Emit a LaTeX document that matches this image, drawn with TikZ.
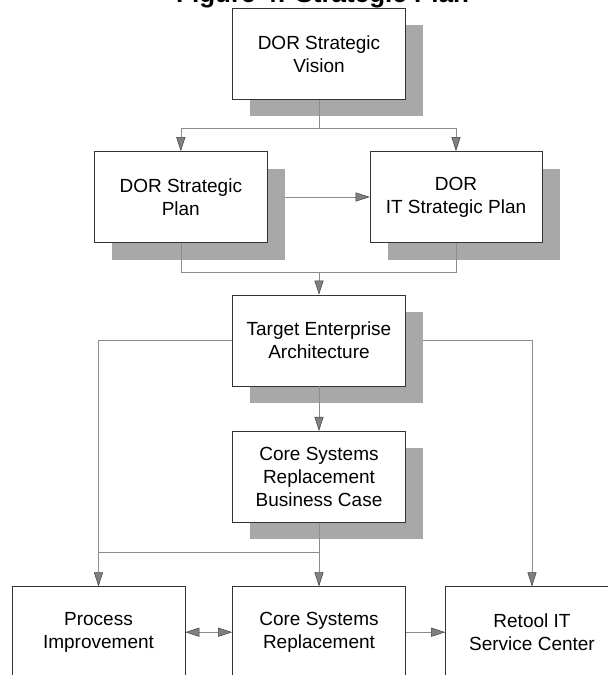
\documentclass[tikz,border=0pt]{standalone}
\usepackage{fontspec}
\setmainfont{Liberation Sans}
\usetikzlibrary{arrows.meta,shadows}
\definecolor{shadowc}{gray}{0.66}
\definecolor{linec}{gray}{0.55}
\tikzset{
  box/.style={draw=black!80, line width=0.7pt, fill=white, minimum width=173pt, minimum height=91pt,
    inner sep=0pt, align=center, font=\fontsize{19}{23}\selectfont},
  sbox/.style={box, general shadow={fill=shadowc, shadow xshift=17.5pt, shadow yshift=-17pt}},
  conn/.style={draw=linec, line width=0.6pt},
  tip/.style={},
  arr/.style={conn, -{Triangle[length=14pt,width=9pt,color=black!75,fill=black!50,line width=0.5pt]}},
  darr/.style={conn, {Triangle[length=14pt,width=9pt,color=black!75,fill=black!50,line width=0.5pt]}-{Triangle[length=14pt,width=9pt,color=black!75,fill=black!50,line width=0.5pt]}},
  titlef/.style={font=\fontsize{26}{31}\selectfont\bfseries, inner sep=0pt}
}
\begin{document}
\begin{tikzpicture}[x=1pt,y=-1pt]
\useasboundingbox (0,0) rectangle (608,675);
\clip (0,0) rectangle (608,675);
\fill[white] (0,0) rectangle (608,675);
\node[titlef, anchor=base west] (title) at (176,2) {Figure 4: Strategic Plan};
\node[sbox] (vis) at (319,53.8) {DOR Strategic\\Vision};
\node[sbox] (plan) at (180.8,197) {DOR Strategic\\Plan};
\node[sbox, minimum width=172pt] (itp) at (456,197) {DOR\\IT Strategic Plan};
\node[sbox] (tea) at (319,340.4) {Target Enterprise\\Architecture};
\node[sbox] (bc) at (319,476.7) {Core Systems\\Replacement\\Business Case};
\node[box] (pi) at (98.5,632.2) {Process\\Improvement};
\node[box] (csr) at (319,632.2) {Core Systems\\Replacement};
\node[box] (rit) at (532,632.2) {Retool IT\\Service Center};
% vision to plans
\coordinate (j1) at (319,128.3);
\draw[conn] (vis.south) -- (j1);
\draw[arr] (j1) -| (plan.north);
\draw[arr] (j1) -| (itp.north);
% plan to IT plan
\coordinate (pe) at ([xshift=17.5pt]plan.east);
\draw[arr] (pe) -- (itp.west);
% plans to target EA
\coordinate (j2) at (319,272.3);
\draw[conn] (plan.south) |- (j2);
\draw[conn] (itp.south) |- (j2);
\draw[arr] (j2) -- (tea.north);
% target EA branches
\draw[arr] (tea.west) -| (pi.north);
\coordinate (te) at ([xshift=17.5pt]tea.east);
\draw[arr] (te) -| (rit.north);
\draw[arr] (tea.south) -- (bc.north);
% business case
\draw[arr] (bc.south) -- (csr.north);
\coordinate (j3) at (319,552.3);
\draw[conn] (j3) -- (j3 -| pi.north);
% bottom row
\draw[darr] (pi.east) -- (csr.west);
\draw[arr] (csr.east) -- (rit.west);
\end{tikzpicture}
\end{document}
